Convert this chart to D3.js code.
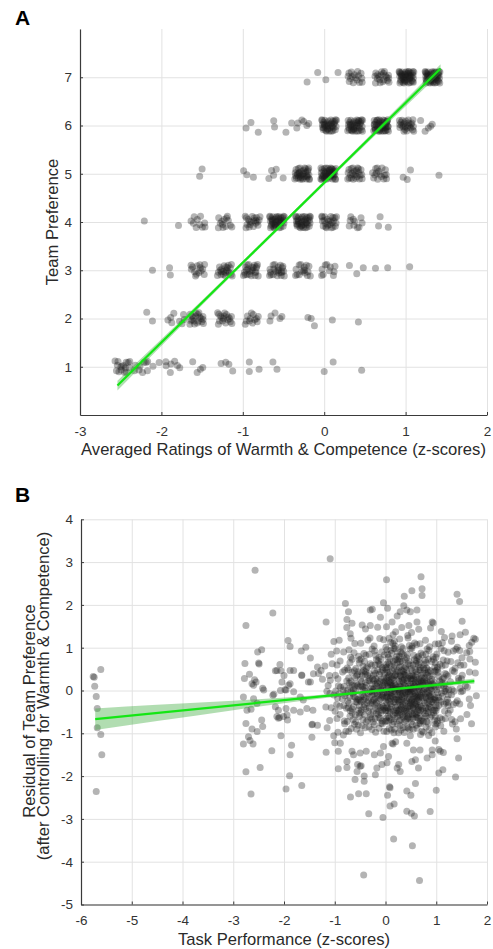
<!DOCTYPE html>
<html>
<head>
<meta charset="utf-8">
<script src="https://cdn.jsdelivr.net/npm/d3@7"></script>
<style>
body { margin: 0; background: #fff; }
svg { display: block; font-family: "Liberation Sans", Arial, Helvetica, sans-serif; }
</style>
</head>
<body>
<svg id="chart" width="493" height="949"></svg>
<script>
// ---------- panel A : team preference vs averaged ratings ----------
var prefTicks = [1, 2, 3, 4, 5, 6, 7];
var ratingTicks = [-3, -2, -1, 0, 1, 2];

// stacked people: [rating, preference, number of people]
var clustersA = [
    [0.38, 7, 16], [0.71, 7, 20], [1.01, 7, 48], [1.33, 7, 52],
    [-0.27, 6, 6], [0.06, 6, 38], [0.38, 6, 40], [0.70, 6, 46], [1.01, 6, 26], [1.27, 6, 5],
    [-0.58, 5, 4], [-0.27, 5, 36], [0.05, 5, 46], [0.38, 5, 24], [0.68, 5, 16],
    [-1.55, 4, 10], [-1.22, 4, 13], [-0.88, 4, 20], [-0.58, 4, 40], [-0.26, 4, 38], [0.06, 4, 24], [0.38, 4, 10], [0.74, 4, 3],
    [-1.55, 3, 14], [-1.22, 3, 22], [-0.90, 3, 24], [-0.58, 3, 22], [-0.26, 3, 16], [0.06, 3, 10],
    [-1.80, 2, 7], [-1.57, 2, 20], [-1.22, 2, 18], [-0.89, 2, 12], [-0.60, 2, 5],
    [-2.48, 1, 16], [-2.26, 1, 8], [-2.10, 1, 3], [-1.86, 1, 7], [-1.53, 1, 4], [-1.20, 1, 4]
];
// isolated (already jittered) points: [rating, preference]
var singlesA = [
    [-0.21, 6.9], [-0.08, 7.1], [0.02, 6.95], [0.17, 7.1],
    [-0.96, 5.95], [-0.90, 6.06], [-0.81, 5.86], [-0.62, 6.1], [-0.61, 5.97], [-0.47, 5.86], [-0.40, 6.05],
    [-1.53, 4.95], [-1.50, 5.1], [-0.99, 5.06], [-0.95, 4.98], [-0.87, 4.93], [-0.68, 4.9],
    [0.97, 4.93], [1.02, 4.88], [1.06, 5.08], [1.41, 4.97],
    [-2.21, 4.02], [-1.79, 3.93],
    [-2.11, 3.0], [-1.90, 3.05], [-1.89, 2.9], [0.31, 3.1], [0.40, 2.93], [0.48, 3.05], [0.63, 3.04], [0.78, 3.05], [1.05, 3.07],
    [-2.18, 2.13], [-2.11, 1.95], [-1.92, 1.97], [-0.20, 2.02], [-0.16, 2.0], [-0.12, 1.85], [0.10, 1.97], [0.42, 1.93],
    [-0.92, 1.1], [-0.92, 0.9], [-0.80, 0.95], [-0.63, 1.1], [-0.58, 0.95], [0.0, 0.9], [0.11, 1.1], [0.46, 0.93]
];
var fitAX = [-2.54, 1.43];
var fitAY = [0.61, 7.18];
var ciAX = [-2.54, -1.5, -0.5, 0.5, 1.43];
var ciALo = [0.51, 2.28, 3.945, 5.59, 7.09];
var ciAHi = [0.71, 2.38, 4.015, 5.69, 7.27];

// ---------- panel B : residual preference vs task performance ----------
var residTicks = [-5, -4, -3, -2, -1, 0, 1, 2, 3, 4];
var taskTicks = [-6, -5, -4, -3, -2, -1, 0, 1, 2];

// sparse points outside the central cloud: [task performance, residual]
var singlesB = [
    [-5.76, 0.33], [-5.74, 0.31], [-5.61, 0.49], [-5.73, 0.1], [-5.70, -0.14], [-5.68, -0.42],
    [-5.68, -0.87], [-5.61, -1.03], [-5.59, -1.5], [-5.70, -2.36],
    [-2.57, 2.81], [-2.22, 1.81], [-2.75, 1.52], [-2.44, 0.95], [-2.52, 0.9], [-2.50, 0.64], [-2.49, 0.62],
    [-2.77, 0.63], [-2.68, 0.38], [-2.78, 0.28], [-2.63, 0.16], [-2.58, 0.25], [-2.60, 0.12], [-2.55, 0.2],
    [-2.42, 0.05], [-2.40, 0.01], [-2.80, -0.15], [-2.60, -0.19], [-2.53, -0.3], [-2.73, -0.46], [-2.65, -0.44],
    [-2.44, -0.69], [-2.75, -0.77], [-2.42, -0.84], [-2.63, -0.9], [-2.53, -0.96], [-2.70, -1.08],
    [-2.67, -1.17], [-2.80, -1.25], [-2.61, -1.25], [-2.24, -1.41], [-2.75, -1.9], [-2.47, -1.8], [-2.65, -2.42],
    [-2.22, -0.11], [-2.20, -0.09], [-2.17, 0.46], [-2.14, 0.47], [-2.08, 0.61], [-1.92, 1.17], [-1.88, 1.03],
    [-2.06, 0.46], [-2.00, 0.35], [-2.04, 0.2], [-1.88, 0.47], [-1.81, 0.47], [-1.88, 0.16], [-2.07, 0.0],
    [-1.98, 0.02], [-1.96, 0.01], [-1.91, 0.12], [-1.81, -0.03], [-2.17, -0.38], [-2.11, -0.46], [-2.11, -0.65],
    [-2.09, -0.63], [-2.14, -0.61], [-2.01, -0.61], [-1.93, -0.69], [-1.94, -0.57], [-1.96, -0.42], [-1.81, -0.46],
    [-2.06, -1.06], [-1.85, -1.28], [-1.88, -1.5], [-1.89, -1.99], [-1.96, -2.3], [-1.65, -2.22],
    [-1.66, 0.92], [-1.57, 1.01], [-1.48, 0.76], [-1.65, 0.35], [-1.65, 0.36], [-1.52, 0.2], [-1.48, 0.2],
    [-1.42, 0.39], [-1.32, 0.4], [-1.34, 0.55], [-1.27, 0.47], [-1.68, -0.5], [-1.55, -0.42], [-1.43, -0.46],
    [-1.44, -0.79], [-1.45, -0.8], [-1.34, -0.81], [-1.45, -1.09], [-1.68, -0.15], [-1.62, -0.22],
    [-1.17, 1.6], [-1.09, 3.08], [-0.79, 2.03], [-0.73, 1.84], [-0.76, 1.66], [-0.66, 1.57], [-0.46, 1.53],
    [-0.30, 1.88], [-0.26, 1.9], [-0.30, 1.52], [-0.10, 1.71], [-0.04, 2.05], [0.02, 2.59], [0.04, 1.92],
    [0.13, 1.6], [0.23, 1.74], [0.29, 1.84], [0.36, 1.98], [0.37, 2.2], [0.42, 1.88], [0.49, 1.84],
    [0.46, 1.52], [0.52, 2.33], [0.62, 1.88], [0.62, 1.6], [0.70, 2.66], [0.72, 2.38], [0.72, 2.22],
    [0.92, 1.6], [0.94, 1.58], [1.41, 2.25], [1.46, 2.08], [1.51, 1.62],
    [1.74, 1.22], [1.77, 1.2], [1.66, 0.91], [1.77, 0.66], [1.77, 0.41], [1.79, -0.12],
    [-1.17, -1.44], [-0.93, -1.83], [-0.76, -1.66], [-0.76, -1.8], [-0.60, -2.08], [-0.56, -1.89],
    [-0.50, -1.77], [-0.48, -1.76], [-0.42, -2.0], [-0.42, -2.12], [-0.69, -2.49], [-0.53, -2.41],
    [-0.38, -2.41], [-0.33, -2.88], [-0.05, -2.97], [0.08, -2.25], [0.09, -2.27], [0.04, -2.45],
    [0.09, -2.7], [0.17, -2.65], [0.16, -3.47], [0.42, -2.35], [0.50, -2.45], [0.42, -2.82],
    [0.51, -2.87], [0.57, -2.93], [0.59, -2.17], [0.53, -3.63], [0.88, -2.83], [1.00, -2.33],
    [1.05, -1.93], [1.13, -1.85], [1.38, -2.02], [1.44, -1.58], [1.41, -1.13], [-0.43, -4.31], [0.67, -4.44],
    [-0.20, -1.97], [-0.17, -1.81], [-0.07, -1.73], [0.03, -1.69], [0.06, -1.54], [0.29, -1.89],
    [0.23, -1.81], [0.26, -1.73], [0.65, -1.81], [0.52, -1.66], [0.59, -1.62], [0.82, -1.58],
    [0.92, -1.5], [1.08, -1.42], [1.14, -1.45], [1.05, -1.38], [0.98, -1.18], [-0.93, -1.42],
    [-0.89, -1.23], [-1.00, -1.22], [-0.66, -1.42], [-0.63, -1.5], [-0.50, -1.46], [-0.38, -1.42],
    [-0.22, -1.5], [-0.10, -1.46], [-0.04, -1.31], [0.13, -1.23], [0.15, -1.25], [0.20, -1.2],
    [0.42, -1.23], [0.55, -1.39], [0.68, -1.39], [0.92, -1.39], [0.49, -1.06], [0.69, -1.03],
    [0.85, -1.05], [-0.55, -1.73], [-0.83, -1.04], [-1.02, -1.06]
];
// central cloud, counted per 0.25 x 0.25 cell
// columns start at task = -1.25, rows start at residual = 1.5 going down
var coreTaskStart = -1.25;
var coreResidTop = 1.5;
var coreCounts = [
    [0, 1, 1, 1, 1, 3, 2, 2, 1, 1, 2, 1],
    [1, 1, 2, 3, 3, 6, 4, 4, 3, 3, 2, 2],
    [1, 2, 4, 4, 5, 9, 8, 6, 5, 4, 3, 2],
    [2, 3, 5, 7, 8, 12, 11, 10, 9, 6, 4, 2],
    [2, 4, 8, 10, 11, 15, 15, 15, 12, 8, 4, 2],
    [2, 5, 10, 12, 15, 19, 19, 19, 16, 9, 4, 2],
    [3, 6, 10, 12, 15, 19, 20, 20, 16, 9, 4, 2],
    [2, 5, 9, 10, 12, 16, 18, 18, 14, 8, 4, 1],
    [1, 4, 7, 8, 9, 13, 14, 14, 10, 5, 3, 1],
    [1, 3, 5, 5, 6, 7, 8, 8, 6, 3, 2, 1]
];
var fitBX = [-5.72, 1.75];
var fitBY = [-0.67, 0.22];
var ciBX = [-5.72, -4.5, -3, -1.5, 0, 1.75];
var ciBLo = [-0.92, -0.715, -0.46, -0.22, -0.02, 0.16];
var ciBHi = [-0.42, -0.335, -0.24, -0.12, 0.04, 0.28];

// fixed scatter pattern used to spread stacked people inside a cell (unit square)
var spread = [
    [0.52, 0.47], [0.12, 0.18], [0.88, 0.80], [0.25, 0.90], [0.78, 0.10], [0.05, 0.58],
    [0.62, 0.28], [0.93, 0.42], [0.38, 0.08], [0.20, 0.40], [0.66, 0.95], [0.95, 0.12],
    [0.45, 0.70], [0.30, 0.55], [0.72, 0.62], [0.10, 0.83], [0.55, 0.15], [0.85, 0.25],
    [0.35, 0.30], [0.08, 0.05], [0.60, 0.80], [0.80, 0.50], [0.22, 0.70], [0.48, 0.92],
    [0.92, 0.65], [0.15, 0.30], [0.70, 0.40], [0.40, 0.48], [0.03, 0.95], [0.58, 0.60],
    [0.28, 0.12], [0.75, 0.85], [0.98, 0.90], [0.42, 0.25], [0.18, 0.62], [0.65, 0.05]
];

var svg = d3.select("#chart");
var dotColor = "#1a1a1a", dotAlpha = 0.33, dotR = 3.5;
var lineColor = "#14e614", bandColor = "#3caa3c";

// second pass through the pattern is mirrored so points don't stack exactly
function spreadAt(k) {
    var s = spread[k % spread.length];
    return Math.floor(k / spread.length) % 2 ? [1 - s[0], 1 - s[1]] : s;
}

function drawPanel(opt) {
    var x = d3.scaleLinear().domain(opt.xDomain).range(opt.xRange);
    var y = d3.scaleLinear().domain(opt.yDomain).range(opt.yRange);
    var g = svg.append("g");
    var h = opt.yRange[0] - opt.yRange[1];
    var w = opt.xRange[1] - opt.xRange[0];

    // grid
    g.append("g")
        .attr("transform", "translate(0," + opt.yRange[0] + ")")
        .call(d3.axisBottom(x).tickValues(opt.xTicks).tickSize(-h).tickFormat(""))
        .call(function (s) { s.select(".domain").remove(); })
        .selectAll("line").attr("stroke", "#e2e2e2");
    g.append("g")
        .attr("transform", "translate(" + opt.xRange[0] + ",0)")
        .call(d3.axisLeft(y).tickValues(opt.yTicks).tickSize(-w).tickFormat(""))
        .call(function (s) { s.select(".domain").remove(); })
        .selectAll("line").attr("stroke", "#e2e2e2");

    g.append("g").selectAll("circle")
        .data(opt.points)
        .enter().append("circle")
        .attr("cx", function (d) { return x(d[0]); })
        .attr("cy", function (d) { return y(d[1]); })
        .attr("r", dotR)
        .attr("fill", dotColor)
        .attr("fill-opacity", dotAlpha);

    var band = d3.area()
        .x(function (d, i) { return x(opt.ciX[i]); })
        .y0(function (d, i) { return y(opt.ciLo[i]); })
        .y1(function (d, i) { return y(opt.ciHi[i]); })
        .curve(d3.curveMonotoneX);
    g.append("path")
        .attr("d", band(opt.ciX))
        .attr("fill", bandColor)
        .attr("fill-opacity", 0.4);

    g.append("line")
        .attr("x1", x(opt.fitX[0])).attr("y1", y(opt.fitY[0]))
        .attr("x2", x(opt.fitX[1])).attr("y2", y(opt.fitY[1]))
        .attr("stroke", lineColor)
        .attr("stroke-width", 2.2);

    // axes, matlab style ticks pointing inwards, plain hyphen minus
    var fmt = function (d) { return String(d); };
    var xAxis = g.append("g")
        .attr("transform", "translate(0," + opt.yRange[0] + ")")
        .call(d3.axisBottom(x).tickValues(opt.xTicks).tickFormat(fmt)
            .tickSizeInner(-3).tickSizeOuter(0).tickPadding(11));
    var yAxis = g.append("g")
        .attr("transform", "translate(" + opt.xRange[0] + ",0)")
        .call(d3.axisLeft(y).tickValues(opt.yTicks).tickFormat(fmt)
            .tickSizeInner(-3).tickSizeOuter(0).tickPadding(8));
    [xAxis, yAxis].forEach(function (a) {
        a.select(".domain").attr("stroke", "#3a3a3a").attr("stroke-width", 1.2);
        a.selectAll("line").attr("stroke", "#3a3a3a");
        a.selectAll("text").attr("fill", "#333").style("font-size", "13.5px")
            .style("font-family", "'Liberation Sans', Arial, sans-serif");
    });

    g.append("text")
        .attr("x", (opt.xRange[0] + opt.xRange[1]) / 2)
        .attr("y", opt.xLabelY)
        .attr("text-anchor", "middle")
        .attr("fill", "#2a2a2a")
        .style("font-size", "16.6px")
        .text(opt.xLabel);

    opt.yLabel.forEach(function (t, i) {
        g.append("text")
            .attr("transform", "translate(" + opt.yLabelX[i] + "," + opt.yLabelMid[i] + ") rotate(-90)")
            .attr("text-anchor", "middle")
            .attr("fill", "#2a2a2a")
            .style("font-size", "16.6px")
            .text(t);
    });

    svg.append("text")
        .attr("x", 15).attr("y", opt.letterY)
        .style("font-size", "21px").style("font-weight", "bold")
        .attr("fill", "#000")
        .text(opt.letter);
}

// points of panel A
var pointsA = singlesA.slice();
clustersA.forEach(function (c, ci) {
    for (var i = 0; i < c[2]; i++) {
        var s = spreadAt(ci * 5 + i);
        pointsA.push([c[0] + (s[0] - 0.5) * 0.19, c[1] + (s[1] - 0.5) * 0.27]);
    }
});

// points of panel B
var pointsB = singlesB.slice();
coreCounts.forEach(function (row, r) {
    row.forEach(function (n, c) {
        var start = (r * 7 + c * 11) % spread.length;
        for (var i = 0; i < n; i++) {
            var s = spreadAt(start + i);
            pointsB.push([coreTaskStart + (c + s[0]) * 0.25, coreResidTop - (r + s[1]) * 0.25]);
        }
    });
});

drawPanel({
    xDomain: [-3, 2], xRange: [80, 487],
    yDomain: [0, 8], yRange: [415, 29],
    xTicks: ratingTicks, yTicks: prefTicks,
    points: pointsA,
    fitX: fitAX, fitY: fitAY, ciX: ciAX, ciLo: ciALo, ciHi: ciAHi,
    xLabel: "Averaged Ratings of Warmth & Competence (z-scores)", xLabelY: 455,
    yLabel: ["Team Preference"], yLabelX: [58], yLabelMid: [222],
    letter: "A", letterY: 25
});

drawPanel({
    xDomain: [-6, 2], xRange: [81, 487],
    yDomain: [-5, 4], yRange: [904.5, 519.3],
    xTicks: taskTicks, yTicks: residTicks,
    points: pointsB,
    fitX: fitBX, fitY: fitBY, ciX: ciBX, ciLo: ciBLo, ciHi: ciBHi,
    xLabel: "Task Performance (z-scores)", xLabelY: 945,
    yLabel: ["Residual of Team Preference", "(after Controlling for Warmth & Competence)"],
    yLabelX: [35, 49], yLabelMid: [711, 696],
    letter: "B", letterY: 502
});
</script>
</body>
</html>
